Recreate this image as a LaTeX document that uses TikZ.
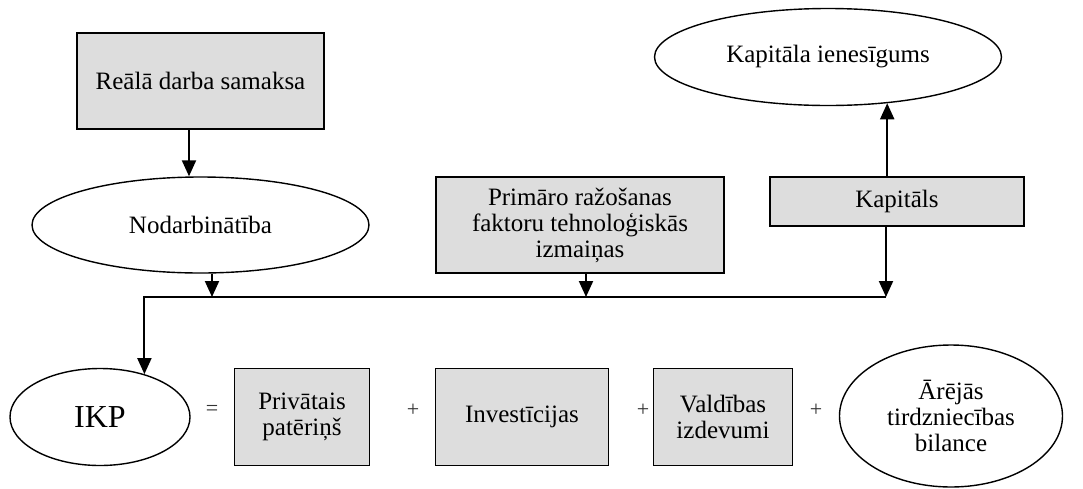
\documentclass[tikz,border=0pt]{standalone}
\usepackage{fontspec}
\setmainfont{Liberation Serif}
\usetikzlibrary{arrows.meta,positioning,calc,shapes.geometric}
\definecolor{boxgray}{HTML}{DDDDDD}
\definecolor{signgray}{HTML}{333333}

\begin{document}
\begin{tikzpicture}[x=0.5pt,y=-0.5pt,
  boxnode/.style={draw,line width=0.7pt,fill=boxgray,align=center,inner sep=2pt,font=\fontsize{12.5}{13}\selectfont},
  ovalnode/.style={draw,line width=0.7pt,ellipse,align=center,inner sep=0pt,font=\fontsize{12.5}{13}\selectfont},
  arr/.style={line width=1pt,-{Triangle[length=8pt,width=7pt]}},
  signtext/.style={text=signgray,font=\fontsize{11}{12}\selectfont}]
\useasboundingbox (0,0) rectangle (1083,488);
% upper part
\node[boxnode,minimum width=123.5pt,minimum height=48pt] (rsam) at (200.5,81) {Reālā darba samaksa};
\node[ovalnode,minimum width=168.5pt,minimum height=48pt] (nodarb) at (200.5,225) {Nodarbinātība};
\node[boxnode,minimum width=144pt,minimum height=48pt] (primfakt) at (580,225) {Primāro ražošanas\\faktoru tehnoloģiskās\\izmaiņas};
\node[boxnode,minimum width=127pt,minimum height=24.5pt] (kap) at (897,201.5) {Kapitāls};
\node[ovalnode,minimum width=173.5pt,minimum height=48.5pt] (kapien) at (828,57) {Kapitāla ienesīgums};
% lower row
\node[ovalnode,minimum width=90pt,minimum height=48.5pt,font=\fontsize{16}{17}\selectfont] (ikp) at (100,417) {IKP};
\node[boxnode,minimum width=67.5pt,minimum height=48.5pt] (patcons) at (302,417) {Privātais\\patēriņš};
\node[boxnode,minimum width=86.5pt,minimum height=48.5pt] (invest) at (522,417) {Investīcijas};
\node[boxnode,minimum width=69.5pt,minimum height=48.5pt] (valdiz) at (723,417) {Valdības\\izdevumi};
\node[ovalnode,minimum width=111.5pt,minimum height=71pt] (bilance) at (951,416) {Ārējās\\tirdzniecības\\bilance};
\node[signtext] (eqsign) at (212,410) {=};
\node[signtext] (plusa) at (413,410) {+};
\node[signtext] (plusb) at (643,410) {+};
\node[signtext] (plusc) at (816,410) {+};
% connectors
\coordinate (bn) at (212,297);
\coordinate (bp) at (586,297);
\coordinate (bk) at (886,297);
\draw[arr] ([xshift=-5.75pt]rsam.south) -- ([xshift=-5.75pt]nodarb.north);
\draw[arr] (nodarb.south -| bn) -- (bn);
\draw[arr] (primfakt.south -| bp) -- (bp);
\draw[arr] (kap.south -| bk) -- (bk);
\draw[arr] (kap.north -| kapien.-38) -- (kapien.-38);
\draw[arr] (bk) -- (ikp.44 |- bk) -- (ikp.44);
\end{tikzpicture}
\end{document}
